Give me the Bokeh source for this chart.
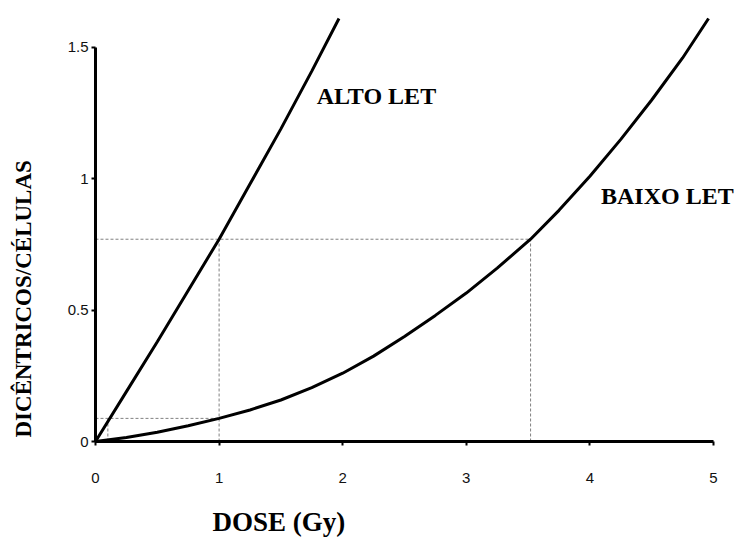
import math
from bokeh.plotting import figure
from bokeh.models import Range1d, Label, FixedTicker
from bokeh.embed import file_html
from bokeh.resources import INLINE

# Data
dose_alto = [0.0, 0.25, 0.5, 0.75, 1.0, 1.25, 1.5, 1.75, 1.97]
yield_alto = [0.0, 0.19, 0.38, 0.575, 0.77, 0.98, 1.19, 1.41, 1.61]

dose_baixo = [0.0, 0.25, 0.5, 0.75, 1.0, 1.25, 1.5, 1.75, 2.0, 2.25, 2.5, 2.75,
              3.0, 3.25, 3.52, 3.75, 4.0, 4.25, 4.5, 4.75, 4.96]
yield_baixo = [0.0, 0.015, 0.035, 0.06, 0.088, 0.12, 0.158, 0.205, 0.26, 0.325, 0.40, 0.48,
               0.565, 0.66, 0.77, 0.88, 1.01, 1.15, 1.30, 1.46, 1.61]

# reference (dashed) lines
ref_high_y = 0.77
ref_low_y = 0.088
ref_alto_dose_high = 1.0
ref_baixo_dose_high = 3.52
ref_alto_dose_low = 0.1
ref_baixo_dose_low = 1.0

x_ticks = [0, 1, 2, 3, 4, 5]
y_ticks = [0, 0.5, 1, 1.5]
y_tick_labels = {0: "0", 0.5: "0.5", 1: "1", 1.5: "1.5"}

p = figure(width=734, height=538, output_backend="svg", toolbar_location=None,
           x_range=Range1d(-0.7686, 5.170), y_range=Range1d(-0.3692, 1.6787),
           min_border_left=0, min_border_right=0, min_border_top=0, min_border_bottom=0)
p.outline_line_color = None
p.grid.visible = False
p.background_fill_color = "white"

# dashed reference lines
dash = dict(line_color="#808080", line_width=1, line_dash="3 2")
p.line([0, ref_baixo_dose_high], [ref_high_y, ref_high_y], **dash)
p.line([ref_alto_dose_high, ref_alto_dose_high], [0, ref_high_y], **dash)
p.line([ref_baixo_dose_high, ref_baixo_dose_high], [0, ref_high_y], **dash)
p.line([0, ref_baixo_dose_low], [ref_low_y, ref_low_y], **dash)
p.line([ref_alto_dose_low, ref_alto_dose_low], [0, ref_low_y], **dash)

# curves
p.line(dose_alto, yield_alto, line_color="black", line_width=3)
p.line(dose_baixo, yield_baixo, line_color="black", line_width=3)

for ax in (p.xaxis[0], p.yaxis[0]):
    ax.fixed_location = 0
    ax.axis_line_width = 3
    ax.axis_line_color = "black"
    ax.major_tick_line_width = 2
    ax.major_tick_line_color = "black"
    ax.major_tick_out = 4
    ax.major_tick_in = 0
    ax.minor_tick_line_color = None
    ax.major_label_text_font = "Liberation Sans"
    ax.major_label_text_font_size = "15px"
    ax.major_label_text_color = "#111111"

p.xaxis.bounds = (0, 5)
p.yaxis.bounds = (0, 1.5)
p.xaxis.ticker = FixedTicker(ticks=x_ticks)
p.yaxis.ticker = FixedTicker(ticks=y_ticks)
p.yaxis.major_label_overrides = y_tick_labels
p.xaxis.major_label_standoff = 27
p.yaxis.major_label_standoff = 3

title_font = dict(text_font="Liberation Serif", text_font_style="bold", text_color="black")

p.add_layout(Label(x=1.79, y=1.317, text="ALTO LET", text_align="left",
                   text_baseline="middle", text_font_size="24px", **title_font))
p.add_layout(Label(x=4.09, y=0.936, text="BAIXO LET", text_align="left",
                   text_baseline="middle", text_font_size="24px", **title_font))
p.add_layout(Label(x=0.947, y=-0.308, text="DOSE (Gy)", text_align="left",
                   text_baseline="middle", text_font_size="27px", **title_font))
p.add_layout(Label(x=-0.5825, y=0.0152, text="DICÊNTRICOS/CÉLULAS", angle=math.pi / 2,
                   text_align="left", text_baseline="middle", text_font_size="23px",
                   **title_font))

open("out.html", "w").write(file_html(p, INLINE))
